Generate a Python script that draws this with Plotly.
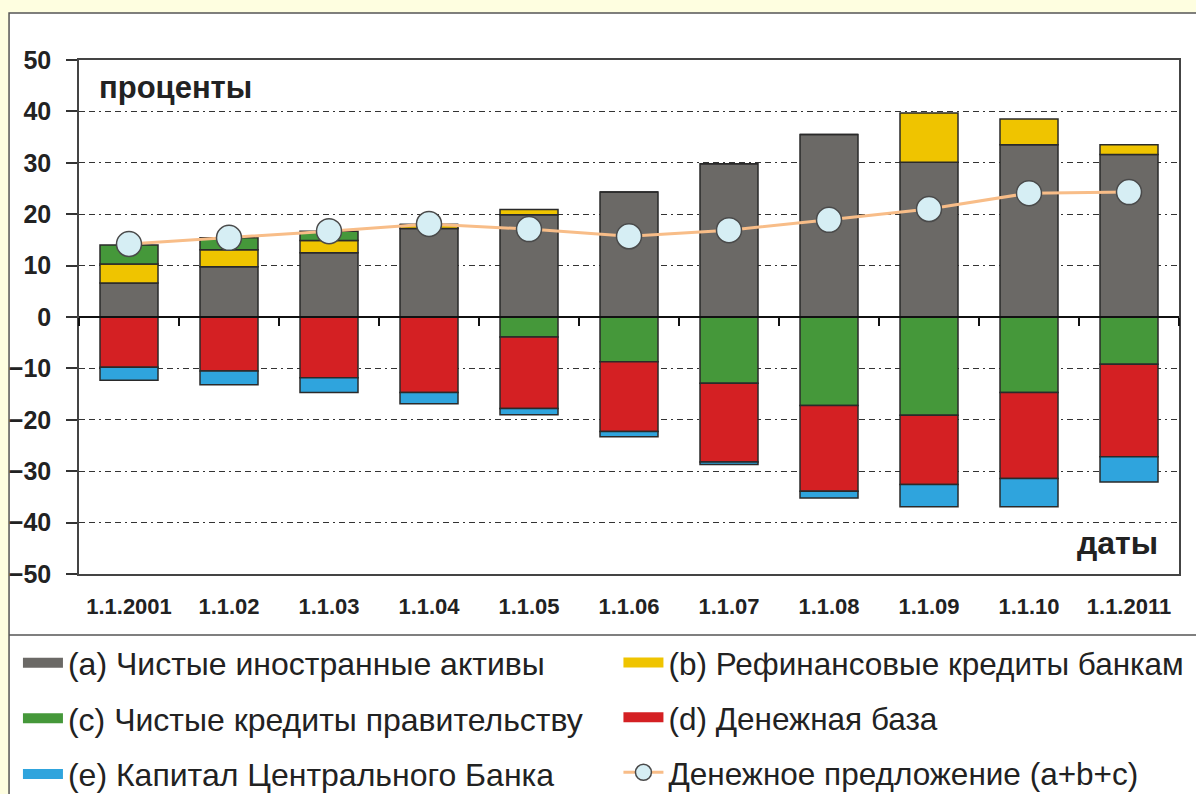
import plotly.graph_objects as go

dates = ["1.1.2001", "1.1.02", "1.1.03", "1.1.04", "1.1.05", "1.1.06",
         "1.1.07", "1.1.08", "1.1.09", "1.1.10", "1.1.2011"]
# (a) Net foreign assets
net_foreign = [6.6, 9.8, 12.5, 17.2, 19.9, 24.3, 29.8, 35.5, 30.1, 33.5, 31.6]
# (b) Refinancing credits to banks
refin = [3.7, 3.3, 2.4, 0.8, 1.0, 0.0, 0.0, 0.0, 9.6, 5.0, 1.9]
# (c) Net credit to government
net_gov = [3.7, 2.3, 1.8, 0.0, -3.9, -8.7, -12.9, -17.2, -19.1, -14.7, -9.2]
# (d) Monetary base
money_base = [-9.8, -10.5, -11.8, -14.7, -13.9, -13.6, -15.3, -16.7, -13.5, -16.7, -18.0]
# (e) Central bank capital
cb_capital = [-2.5, -2.7, -2.9, -2.2, -1.2, -1.0, -0.5, -1.3, -4.3, -5.5, -4.9]
# Money supply (a+b+c)
money_supply = [14.2, 15.4, 16.7, 18.1, 17.1, 15.7, 16.9, 18.9, 21.0, 24.1, 24.3]
y_ticks = [50, 40, 30, 20, 10, 0, -10, -20, -30, -40, -50]

names = ["(a) Чистые иностранные активы", "(b) Рефинансовые кредиты банкам",
         "(c) Чистые кредиты правительству", "(d) Денежная база",
         "(e) Капитал Центрального Банка", "Денежное предложение (a+b+c)"]
colors = ["#6b6966", "#efc400", "#45983a", "#d42023", "#2fa4dd"]
series = [net_foreign, refin, net_gov, money_base, cb_capital]
legend_of = ["legend", "legend2", "legend", "legend2", "legend"]

FONT = "Liberation Sans, Arial, sans-serif"
TXT = "#222222"

fig = go.Figure()
for vals, col, nm in zip(series, colors, names):
    fig.add_trace(go.Bar(
        x=dates, y=vals, name=nm, showlegend=False, width=0.58,
        marker=dict(color=col, line=dict(color="#2a2a2a", width=1.5)),
    ))

# legend entries
for vals, col, nm, lg in zip(series, colors, names, legend_of):
    fig.add_trace(go.Scatter(
        x=[None], y=[None], mode="lines", name=nm, legend=lg, legendgroup=nm,
        line=dict(color=col, width=10), hoverinfo="skip",
    ))

fig.add_trace(go.Scatter(
    x=dates, y=money_supply, mode="lines+markers", name=names[5],
    legend="legend2", legendgroup=names[5],
    line=dict(color="#f8bd88", width=3),
    marker=dict(size=25, color="#d6eef4", line=dict(color="#4a4a4a", width=1.5)),
))

# zero line with category boundary ticks
fig.add_trace(go.Scatter(x=[None], y=[None], xaxis="x2", yaxis="y",
                         showlegend=False, hoverinfo="skip"))

fig.update_layout(
    width=1196, height=794,
    margin=dict(l=79, r=17, t=60, b=220, autoexpand=False),
    paper_bgcolor="#fefee0", plot_bgcolor="white",
    barmode="relative", bargap=0.42,
    font=dict(family=FONT, color=TXT),
    xaxis=dict(
        type="category", showgrid=False, ticks="", showline=True, mirror=True,
        linecolor="#444444", linewidth=1.5, ticklabelstandoff=12,
        tickfont=dict(family=FONT, size=22, color=TXT, weight="bold"),
        range=[-0.5, 10.5],
    ),
    xaxis2=dict(
        overlaying="x", anchor="free", position=0.5, range=[-0.5, 10.5],
        tickvals=[i - 0.5 for i in range(12)], ticks="outside", ticklen=8,
        tickwidth=2, tickcolor="#111111", showticklabels=False,
        showline=True, linecolor="#111111", linewidth=2, showgrid=False,
        zeroline=False,
    ),
    yaxis=dict(
        range=[-50, 50], tickvals=y_ticks, ticks="outside", ticklen=11,
        tickwidth=1.5, tickcolor="#333333", showline=True, mirror=True,
        linecolor="#444444", linewidth=1.5, zeroline=False,
        showgrid=True, gridcolor="#333333", gridwidth=1,
        griddash="6px,4px,6px,4px,2px,4px", ticklabelstandoff=10,
        tickfont=dict(family=FONT, size=25, color=TXT, weight="bold"),
    ),
    legend=dict(
        x=-0.0555, y=-0.1195, xanchor="left", yanchor="top",
        bgcolor="rgba(0,0,0,0)", tracegroupgap=11, itemwidth=40,
        font=dict(family=FONT, size=32, color=TXT),
    ),
    legend2=dict(
        x=0.4904, y=-0.1195, xanchor="left", yanchor="top",
        bgcolor="rgba(0,0,0,0)", tracegroupgap=11, itemwidth=40,
        font=dict(family=FONT, size=31.5, color=TXT),
    ),
    shapes=[
        dict(type="rect", xref="paper", yref="paper", layer="below",
             x0=-0.0636, x1=1.2, y0=-0.6, y1=1.0914,
             fillcolor="white", line=dict(color="#555555", width=1.5)),
        dict(type="line", xref="paper", yref="paper",
             x0=-0.0636, x1=1.2, y0=-0.1187, y1=-0.1187,
             line=dict(color="#555555", width=1.5)),
    ],
    annotations=[
        dict(text="<b>проценты</b>", xref="paper", yref="paper", x=0.0164, y=0.947,
             xanchor="left", yanchor="middle", showarrow=False,
             font=dict(family=FONT, size=31, color=TXT)),
        dict(text="<b>даты</b>", xref="paper", yref="paper", x=0.9827, y=0.0603,
             xanchor="right", yanchor="middle", showarrow=False,
             font=dict(family=FONT, size=32, color=TXT)),
    ],
)

fig.write_html("out.html", config={"displayModeBar": False},
               post_script="document.body.style.margin='0px';"
                           "document.body.style.overflow='hidden';")
